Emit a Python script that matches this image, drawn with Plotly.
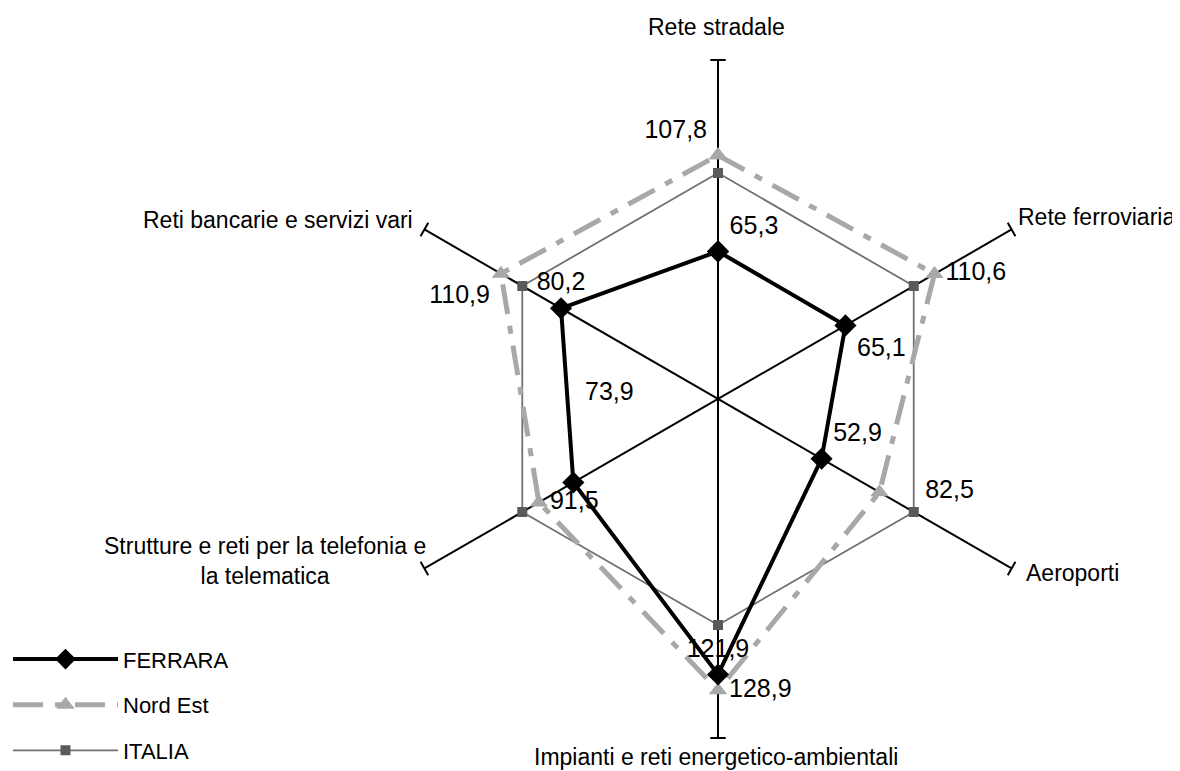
import plotly.graph_objects as go

NBSP = '\u00a0'

# categorie (in senso orario dall'alto)
categorie = [
    'Rete stradale',
    'Rete ferroviaria',
    'Aeroporti',
    'Impianti e reti energetico-ambientali',
    'Strutture e reti per la telefonia e<br>la telematica',
    'Reti bancarie e servizi vari',
]
ferrara = [65.3, 65.1, 52.9, 121.9, 73.9, 80.2]
nord_est = [107.8, 110.6, 82.5, 128.9, 91.5, 110.9]
italia = [100, 100, 100, 100, 100, 100]

RMAX = 150

# posizione delle etichette dei valori
pos_ferrara = ['top right', 'bottom right', 'top right', 'top center', 'top right', 'top center']
pos_nord_est = ['top left', 'middle right', 'middle right', 'middle right', 'middle right', 'bottom left']

# posizione delle etichette delle categorie (coordinate carta)
pos_cat = [
    (0.600, 0.975, 'center'),
    (0.8545, 0.729, 'left'),
    (0.8610, 0.267, 'left'),
    (0.600, 0.028, 'center'),
    (0.2178, 0.283, 'center'),
    (0.3449, 0.725, 'right'),
]


def fmt(v):
    return f'{v:.1f}'.replace('.', ',')


def chiudi(lst, extra=None):
    return list(lst) + [lst[0] if extra is None else extra]


testo_ferrara = [fmt(v) for v in ferrara]
testo_ferrara[4] = testo_ferrara[4] + '<br> <br> '   # etichetta spostata in alto
testo_nord_est = [fmt(v) for v in nord_est]
testo_nord_est[2] = NBSP * 5 + testo_nord_est[2]

fig = go.Figure()

fig.add_scatterpolar(
    r=chiudi(italia),
    theta=chiudi(categorie),
    name='ITALIA',
    mode='lines+markers',
    line=dict(color='#707070', width=1.8),
    marker=dict(symbol='square', size=10, color='#5a5a5a'),
    legendrank=3,
    legendgroup='c',
    hoverinfo='skip'
)
fig.add_scatterpolar(
    r=chiudi(nord_est),
    theta=chiudi(categorie),
    name='Nord Est',
    mode='lines+markers+text',
    line=dict(color='#a8a8a8', width=5, dash='30px,12px,8px,12px'),
    marker=dict(symbol='triangle-up', size=16, color='#a8a8a8'),
    text=chiudi(testo_nord_est, ''),
    textposition=chiudi(pos_nord_est, 'middle center'),
    textfont=dict(size=25, color='black'),
    legendrank=2,
    legendgroup='b',
    hoverinfo='skip'
)
fig.add_scatterpolar(
    r=chiudi(ferrara),
    theta=chiudi(categorie),
    name='FERRARA',
    mode='lines+markers+text',
    line=dict(color='black', width=4),
    marker=dict(symbol='diamond', size=17, color='black'),
    text=chiudi(testo_ferrara, ''),
    textposition=chiudi(pos_ferrara, 'middle center'),
    textfont=dict(size=25, color='black'),
    legendrank=1,
    legendgroup='a',
    hoverinfo='skip'
)

# trattini alle estremita' degli assi
fig.add_scatterpolar(
    r=[RMAX] * len(categorie),
    theta=categorie,
    mode='markers',
    marker=dict(symbol='line-ew', size=11,
                angle=[i * 360 / len(categorie) for i in range(len(categorie))],
                line=dict(color='black', width=2)),
    showlegend=False,
    hoverinfo='skip'
)

for nome, (px_, py_, al) in zip(categorie, pos_cat):
    fig.add_annotation(
        x=px_, y=py_, xref='paper', yref='paper',
        text=nome, showarrow=False,
        xanchor=al, yanchor='middle', align='center',
        font=dict(size=23, color='black')
    )

fig.update_layout(
    width=1180,
    height=771,
    paper_bgcolor='white',
    plot_bgcolor='white',
    margin=dict(l=0, r=0, t=0, b=0),
    font=dict(family='Liberation Sans, Arial, sans-serif', size=23, color='black'),
    polar=dict(
        domain=dict(x=[0.3144, 0.8890], y=[0.0532, 0.9326]),
        bgcolor='white',
        gridshape='linear',
        radialaxis=dict(range=[0, RMAX], showgrid=False, showline=False,
                        showticklabels=False, ticks=''),
        angularaxis=dict(rotation=90, direction='clockwise', showline=False,
                         showgrid=True, gridcolor='black', gridwidth=2,
                         ticks='', showticklabels=False),
    ),
    legend=dict(
        x=0.0, y=0.01, xanchor='left', yanchor='bottom',
        font=dict(size=22),
        traceorder='grouped',
        tracegroupgap=14,
        itemwidth=105,
        bgcolor='rgba(0,0,0,0)'
    ),
)

fig.write_html('out.html')
